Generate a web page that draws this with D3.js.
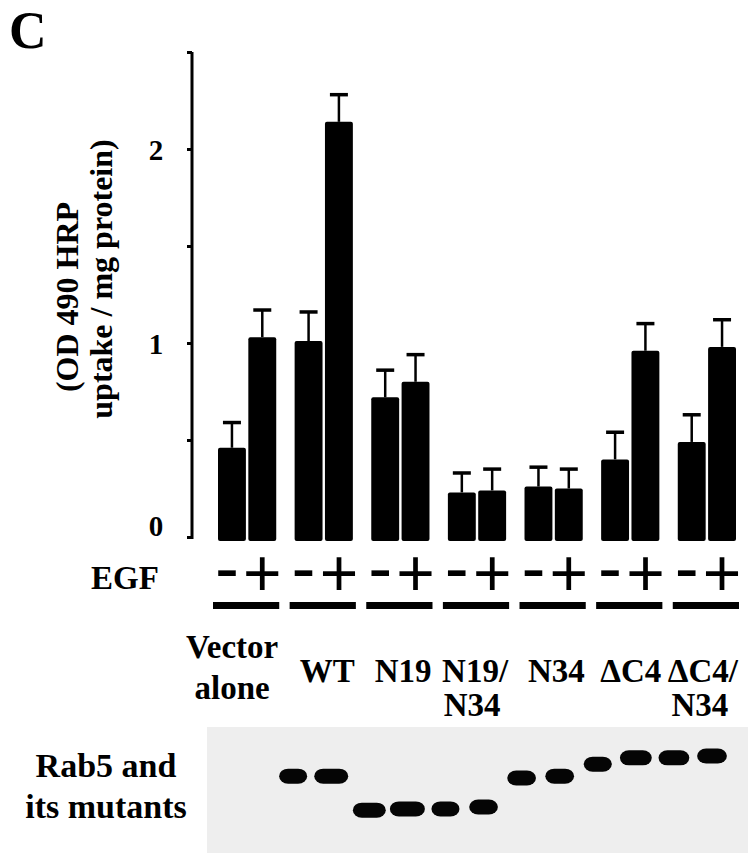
<!DOCTYPE html>
<html>
<head>
<meta charset="utf-8">
<script src="https://cdn.jsdelivr.net/npm/d3@7"></script>
<style>
  html, body { margin: 0; padding: 0; background: #fff; }
  svg { display: block; }
</style>
</head>
<body>
<svg id="chart"></svg>
<script>
// --- data ---
const groups = ['Vector alone', 'WT', 'N19', 'N19/N34', 'N34', 'ΔC4', 'ΔC4/N34'];
const groupLabels = [['Vector', 'alone'], ['WT'], ['N19'], ['N19/', 'N34'], ['N34'], ['ΔC4'], ['ΔC4/', 'N34']];
const egf = ['-', '+'];
const meanMinus = [0.46, 1.01, 0.72, 0.23, 0.26, 0.40, 0.49];
const meanPlus = [1.03, 2.14, 0.80, 0.24, 0.25, 0.96, 0.98];
const errMinus = [0.13, 0.15, 0.14, 0.10, 0.10, 0.14, 0.14];
const errPlus = [0.14, 0.14, 0.14, 0.11, 0.10, 0.14, 0.14];
const yTicks = [0, 0.5, 1, 1.5, 2, 2.5];
const yTickLabels = { 0: '0', 1: '1', 2: '2' };

// western blot: one lane per bar, relative migration and band strength
const blotRf = [null, null, 0.39, 0.39, 0.66, 0.65, 0.65, 0.635, 0.405, 0.39, 0.295, 0.245, 0.245, 0.23];
const blotStrength = [0, 0, 0.8, 0.97, 0.94, 1, 0.8, 0.82, 0.82, 0.82, 0.8, 0.91, 0.88, 0.85];

const SERIF = '"Liberation Serif", "Times New Roman", Times, "DejaVu Serif", serif';
const SANS = '"Liberation Sans", Arial, Helvetica, sans-serif';

const W = 755, H = 853;
const svg = d3.select('#chart').attr('width', W).attr('height', H);

function serifText(sel, size) {
  return sel.attr('font-family', SERIF).attr('font-weight', 'bold')
    .attr('font-size', size).attr('fill', '#000');
}

// rows: one per bar
const bars = [];
groups.forEach((g, i) => {
  bars.push({ group: g, egf: '-', value: meanMinus[i], err: errMinus[i] });
  bars.push({ group: g, egf: '+', value: meanPlus[i], err: errPlus[i] });
});

// scales
const y = d3.scaleLinear().domain([0, 2.5]).range([537, 52]);
const x0 = d3.scaleBand().domain(groups).range([218, 736]).paddingInner(0.24);
const x1 = d3.scaleBand().domain(egf).range([0, x0.bandwidth()]).paddingInner(0.08);
const barX = d => x0(d.group) + x1(d.egf);
const barCx = d => barX(d) + x1.bandwidth() / 2;

// panel letter
serifText(svg.append('text'), 52).attr('x', 9).attr('y', 48).text('C');

// y axis
const axis = d3.axisLeft(y).tickValues(yTicks).tickSize(5).tickSizeOuter(0)
  .tickFormat(d => yTickLabels[d] || '');
const gAxis = svg.append('g').attr('transform', 'translate(192,0)').call(axis);
gAxis.select('.domain').attr('stroke', '#000').attr('stroke-width', 3)
  .attr('d', `M0,${y(2.5)}V${y(0) + 2}`);
gAxis.selectAll('.tick line').attr('stroke', '#000').attr('stroke-width', 3);
serifText(gAxis.selectAll('.tick text'), 29)
  .attr('x', -36)
  .attr('dy', d => d === 0 ? '-0.05em' : '0.35em')
  .attr('text-anchor', 'middle');

// y axis title, two rotated lines
const yTitle = serifText(svg.append('text'), 32)
  .attr('text-anchor', 'middle')
  .attr('transform', 'translate(0,288) rotate(-90)');
yTitle.append('tspan').attr('x', -9).attr('y', 78).text('(OD 490 HRP');
yTitle.append('tspan').attr('x', 9).attr('y', 112).text('uptake / mg protein)');

// bars
svg.append('g').selectAll('rect')
  .data(bars)
  .join('rect')
  .attr('x', barX)
  .attr('y', d => y(d.value))
  .attr('width', x1.bandwidth())
  .attr('height', d => y(0) + 4 - y(d.value))
  .attr('rx', 2)
  .attr('fill', '#000');

// error bars (upper only)
const err = svg.append('g').attr('stroke', '#000');
err.selectAll('line.v')
  .data(bars)
  .join('line')
  .attr('class', 'v')
  .attr('x1', barCx).attr('x2', barCx)
  .attr('y1', d => y(d.value))
  .attr('y2', d => y(d.value + d.err))
  .attr('stroke-width', 2.5);
err.selectAll('line.cap')
  .data(bars)
  .join('line')
  .attr('class', 'cap')
  .attr('x1', d => barCx(d) - 9).attr('x2', d => barCx(d) + 9)
  .attr('y1', d => y(d.value + d.err))
  .attr('y2', d => y(d.value + d.err))
  .attr('stroke-width', 3.5);

// EGF row
serifText(svg.append('text'), 33).attr('x', 91).attr('y', 589).text('EGF');
svg.append('g').selectAll('text')
  .data(bars)
  .join('text')
  .attr('font-family', SANS)
  .attr('fill', '#000')
  .attr('x', d => d.egf === '+' ? barCx(d) : barCx(d) - 5)
  .attr('y', d => d.egf === '+' ? 596 : 592)
  .attr('text-anchor', 'middle')
  .attr('font-size', d => d.egf === '+' ? 66 : 72)
  .text(d => d.egf);

// group underlines
svg.append('g').selectAll('rect')
  .data(groups)
  .join('rect')
  .attr('x', d => x0(d) - 5)
  .attr('y', 602)
  .attr('width', x0.bandwidth() + 8)
  .attr('height', 7)
  .attr('fill', '#000');

// group labels: first line right-aligned to the group, second line centred under it
const labels = svg.append('g');
groups.forEach((g, i) => {
  const lines = groupLabels[i];
  const right = x0(g) + x0.bandwidth() + 2;
  const isVector = g === 'Vector alone';
  const first = serifText(labels.append('text'), 33)
    .attr('text-anchor', 'end')
    .attr('x', right)
    .attr('y', isVector ? 658 : 682)
    .text(lines[0]);
  if (lines.length > 1) {
    const w = first.node().getComputedTextLength();
    serifText(labels.append('text'), 33)
      .attr('text-anchor', 'middle')
      .attr('x', right - w / 2 - (isVector ? 0 : 3))
      .attr('y', isVector ? 699 : 716)
      .text(lines[1]);
  }
});

// blot
const lanes = d3.range(blotRf.length);
const laneX = d3.scalePoint().domain(lanes).range([217, 712]);
const rfY = d3.scaleLinear().domain([0, 1]).range([727, 853]);
const bandW = d3.scaleLinear().domain([0, 1]).range([0, 35]);

svg.append('rect')
  .attr('x', 207).attr('y', rfY(0))
  .attr('width', 541).attr('height', rfY(1) - rfY(0))
  .attr('fill', '#eeeeee');

svg.append('g').selectAll('rect')
  .data(lanes.filter(i => blotRf[i] !== null))
  .join('rect')
  .attr('x', i => laneX(i) - bandW(blotStrength[i]) / 2)
  .attr('y', i => rfY(blotRf[i]) - 7.5)
  .attr('width', i => bandW(blotStrength[i]))
  .attr('height', 15)
  .attr('rx', 9).attr('ry', 7.5)
  .attr('fill', '#050505');

const blotLabel = serifText(svg.append('text'), 34).attr('text-anchor', 'middle');
blotLabel.append('tspan').attr('x', 106).attr('y', 777).text('Rab5 and');
blotLabel.append('tspan').attr('x', 106).attr('y', 818).text('its mutants');
</script>
</body>
</html>
